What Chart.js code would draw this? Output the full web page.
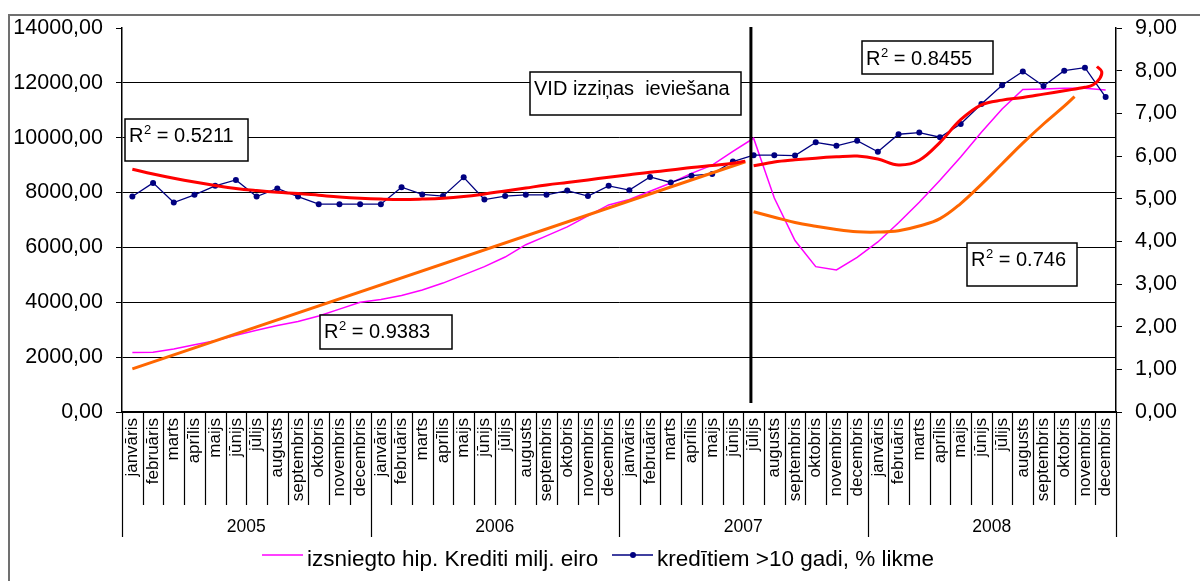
<!DOCTYPE html>
<html><head><meta charset="utf-8">
<script src="https://cdn.jsdelivr.net/npm/chart.js@4.4.0/dist/chart.umd.min.js"></script>
<style>html,body{margin:0;padding:0;background:#fff;overflow:hidden}canvas{display:block}</style>
</head><body>
<canvas id="c" width="1200" height="581"></canvas>
<script>
// ---------- data ----------
const months = ['janvāris','februāris','marts','aprīlis','maijs','jūnijs','jūlijs','augusts','septembris','oktobris','novembris','decembris'];
const years = ['2005','2006','2007','2008'];

const creditLabel = 'izsniegto hip. Krediti milj. eiro';
const rateLabel = 'kredītiem >10 gadi, % likme';

// izsniegto hip. kredīti, milj. eiro (left axis)
const creditValues = [
  2170, 2180, 2300, 2450, 2600, 2800, 2980, 3150, 3300, 3500, 3750, 4000,
  4100, 4250, 4450, 4700, 5000, 5300, 5650, 6100, 6420, 6750, 7150, 7550,
  7750, 8050, 8350, 8700, 9000, 9500, 9980, 7800, 6250, 5300, 5180, 5640,
  6200, 6900, 7650, 8450, 9300, 10200, 11050, 11760, 11780, 11800, 11800, 11740
];
// kredītiem >10 gadi, % likme (right axis)
const rateValues = [
  5.05, 5.37, 4.91, 5.09, 5.30, 5.44, 5.05, 5.24, 5.05, 4.87, 4.87, 4.87,
  4.87, 5.27, 5.10, 5.06, 5.50, 4.98, 5.06, 5.09, 5.09, 5.19, 5.06, 5.30,
  5.20, 5.51, 5.38, 5.54, 5.58, 5.87, 6.02, 6.02, 6.01, 6.32, 6.24, 6.36,
  6.10, 6.51, 6.55, 6.44, 6.75, 7.22, 7.66, 7.98, 7.64, 8.00, 8.07, 7.38
];

// trend lines (month position, value)
const rateTrendAX = [0,1,2,3,4,5,6,7,8,9,10,11,12,13,14,15,16,17,18,19,20,21,22,23,24,25,26,27,28,29,29.6];
const rateTrendAY = [5.69,5.58,5.48,5.39,5.31,5.24,5.19,5.15,5.12,5.08,5.04,5.01,4.99,4.98,4.99,5.01,5.05,5.11,5.18,5.25,5.32,5.38,5.44,5.50,5.56,5.62,5.67,5.73,5.78,5.83,5.88];
const rateTrendBX = [30,31,32,33,34,35,36,37,38,39,40,41,42,43,44,45,46,46.4,46.72,46.81,46.58];
const rateTrendBY = [5.77,5.86,5.91,5.95,5.98,6.00,5.93,5.79,5.90,6.32,6.85,7.20,7.31,7.37,7.45,7.53,7.61,7.67,7.82,7.98,8.10];
const creditTrendAX = [0, 29.6];
const creditTrendAY = [1570, 9125];
const creditTrendBX = [30,31,32,33,34,35,36,37,38,39,40,41,42,43,44,45,45.5];
const creditTrendBY = [7300,7100,6910,6770,6650,6570,6560,6610,6780,7050,7600,8300,9050,9800,10500,11150,11500];

const introLabel = 'VID izziņas  ieviešana';
const r2Values = ['0.5211', '0.9383', '0.8455', '0.746'];

// ---------- chart ----------
const FONT = "'Liberation Sans', Arial, sans-serif";
Chart.defaults.font.family = FONT;
const labels = years.flatMap(() => months);
const idx = creditValues.map((_, i) => i);
const pts = (xs, ys) => xs.map((x, i) => ({x, y: ys[i]}));
const fmt = v => Number(v).toFixed(2).replace('.', ',');

function drawR2(c, x, base, val) {
  c.fillStyle = '#000';
  c.textAlign = 'left'; c.textBaseline = 'alphabetic';
  c.font = '20px ' + FONT;
  c.fillText('R', x, base);
  let w = c.measureText('R').width + 0.5;
  c.font = '13px ' + FONT;
  c.fillText('2', x + w, base - 8);
  w += c.measureText('2').width;
  c.font = '20px ' + FONT;
  c.fillText(' = ' + val, x + w, base);
}
function box(c, x, y, w, h) {
  c.fillStyle = '#fff'; c.fillRect(x, y, w, h);
  c.strokeStyle = '#000'; c.lineWidth = 1.5; c.strokeRect(x, y, w, h);
}

const decor = {
  id: 'decor',
  beforeDraw(chart) {
    const c = chart.ctx;
    c.save();
    c.fillStyle = '#fff'; c.fillRect(0, 0, chart.width, chart.height);
    c.strokeStyle = '#707070'; c.lineWidth = 2;
    c.beginPath(); c.moveTo(9, chart.height); c.lineTo(9, 15); c.lineTo(chart.width, 15); c.stroke();
    c.restore();
  },
  afterDraw(chart) {
    const c = chart.ctx, xs = chart.scales.xl, a = chart.chartArea;
    c.save();
    // month / year separators
    c.strokeStyle = '#000'; c.lineWidth = 1.2;
    for (let i = 0; i <= labels.length; i++) {
      const px = Math.round(xs.getPixelForValue(i - 0.5)) + 0.5;
      const len = (i % months.length === 0) ? 125 : 93;
      c.beginPath(); c.moveTo(px, a.bottom); c.lineTo(px, a.bottom + len); c.stroke();
    }
    // year labels
    c.fillStyle = '#000'; c.font = '17.5px ' + FONT; c.textAlign = 'center'; c.textBaseline = 'alphabetic';
    years.forEach((yr, k) => {
      c.fillText(yr, xs.getPixelForValue(k * months.length + (months.length - 1) / 2), a.bottom + 120);
    });
    // vertical marker line
    const vx = xs.getPixelForValue(29.87);
    c.strokeStyle = '#000'; c.lineWidth = 3;
    c.beginPath(); c.moveTo(vx, a.top - 1); c.lineTo(vx, a.bottom - 9); c.stroke();
    // annotation boxes
    box(c, 125, 119, 123, 42); drawR2(c, 129, 142, r2Values[0]);
    box(c, 320, 315, 132, 34); drawR2(c, 324, 338, r2Values[1]);
    box(c, 862, 41, 131, 33); drawR2(c, 866, 65, r2Values[2]);
    box(c, 967, 243, 110, 43); drawR2(c, 971, 266, r2Values[3]);
    box(c, 530, 72, 211, 43);
    c.fillStyle = '#000'; c.font = '20px ' + FONT; c.textAlign = 'left';
    c.fillText(introLabel, 534, 95);
    // legend
    c.font = '22.5px ' + FONT;
    c.strokeStyle = '#FF00FF'; c.lineWidth = 1.5;
    c.beginPath(); c.moveTo(262, 555); c.lineTo(303, 555); c.stroke();
    c.fillStyle = '#000'; c.fillText(creditLabel, 307, 566);
    c.strokeStyle = '#000080'; c.lineWidth = 1.5;
    c.beginPath(); c.moveTo(612, 555); c.lineTo(653, 555); c.stroke();
    c.fillStyle = '#000080'; c.beginPath(); c.arc(633, 555, 3, 0, Math.PI * 2); c.fill();
    c.fillStyle = '#000'; c.fillText(rateLabel, 657, 566);
    c.restore();
  }
};

new Chart(document.getElementById('c'), {
  type: 'line',
  data: {
    labels,
    datasets: [
      {data: pts(rateTrendAX, rateTrendAY), xAxisID: 'xl', yAxisID: 'y1', borderColor: '#FF0000', borderWidth: 3, pointRadius: 0, tension: 0.4, order: 1},
      {data: pts(rateTrendBX, rateTrendBY), xAxisID: 'xl', yAxisID: 'y1', borderColor: '#FF0000', borderWidth: 3, pointRadius: 0, tension: 0.35, order: 1},
      {data: pts(creditTrendAX, creditTrendAY), xAxisID: 'xl', yAxisID: 'y', borderColor: '#FF6600', borderWidth: 3, pointRadius: 0, tension: 0, order: 2},
      {data: pts(creditTrendBX, creditTrendBY), xAxisID: 'xl', yAxisID: 'y', borderColor: '#FF6600', borderWidth: 3, pointRadius: 0, tension: 0.4, order: 2},
      {label: rateLabel, data: pts(idx, rateValues), xAxisID: 'xl', yAxisID: 'y1', borderColor: '#000080', borderWidth: 1.3, pointRadius: 3, pointBackgroundColor: '#000080', pointBorderWidth: 0, tension: 0, order: 3},
      {label: creditLabel, data: pts(idx, creditValues), xAxisID: 'xl', yAxisID: 'y', borderColor: '#FF00FF', borderWidth: 1.5, pointRadius: 0, tension: 0, order: 4}
    ]
  },
  options: {
    responsive: false, animation: false, devicePixelRatio: 1,
    layout: {padding: {left: 0, right: 0, top: 28, bottom: 0}},
    plugins: {legend: {display: false}, tooltip: {enabled: false}},
    scales: {
      xl: {type: 'linear', position: 'bottom', min: -0.5, max: 47.5, display: false},
      x: {
        type: 'category', position: 'bottom', offset: true,
        grid: {display: false, drawTicks: false},
        border: {display: true, color: '#000', width: 1.5},
        ticks: {autoSkip: false, maxRotation: 90, minRotation: 90, padding: 6, color: '#000', font: {size: 17}},
        afterFit(s) { s.height = 169; }
      },
      y: {
        position: 'left', min: 0, max: 14000,
        ticks: {stepSize: 2000, callback: fmt, padding: 13, color: '#000', font: {size: 21.5}},
        grid: {color: c => (c.tick && c.tick.value === 14000) ? 'rgba(0,0,0,0)' : '#000', tickColor: '#000', tickLength: 6, lineWidth: 1},
        border: {color: '#000', width: 1.5},
        afterFit(s) { s.width = 122; }
      },
      y1: {
        position: 'right', min: 0, max: 9,
        ticks: {stepSize: 1, callback: fmt, padding: 13, color: '#000', font: {size: 21.5}},
        grid: {drawOnChartArea: false, tickColor: '#000', tickLength: 6},
        border: {color: '#000', width: 1.5},
        afterFit(s) { s.width = 84; }
      }
    }
  },
  plugins: [decor]
});
</script>
</body></html>
